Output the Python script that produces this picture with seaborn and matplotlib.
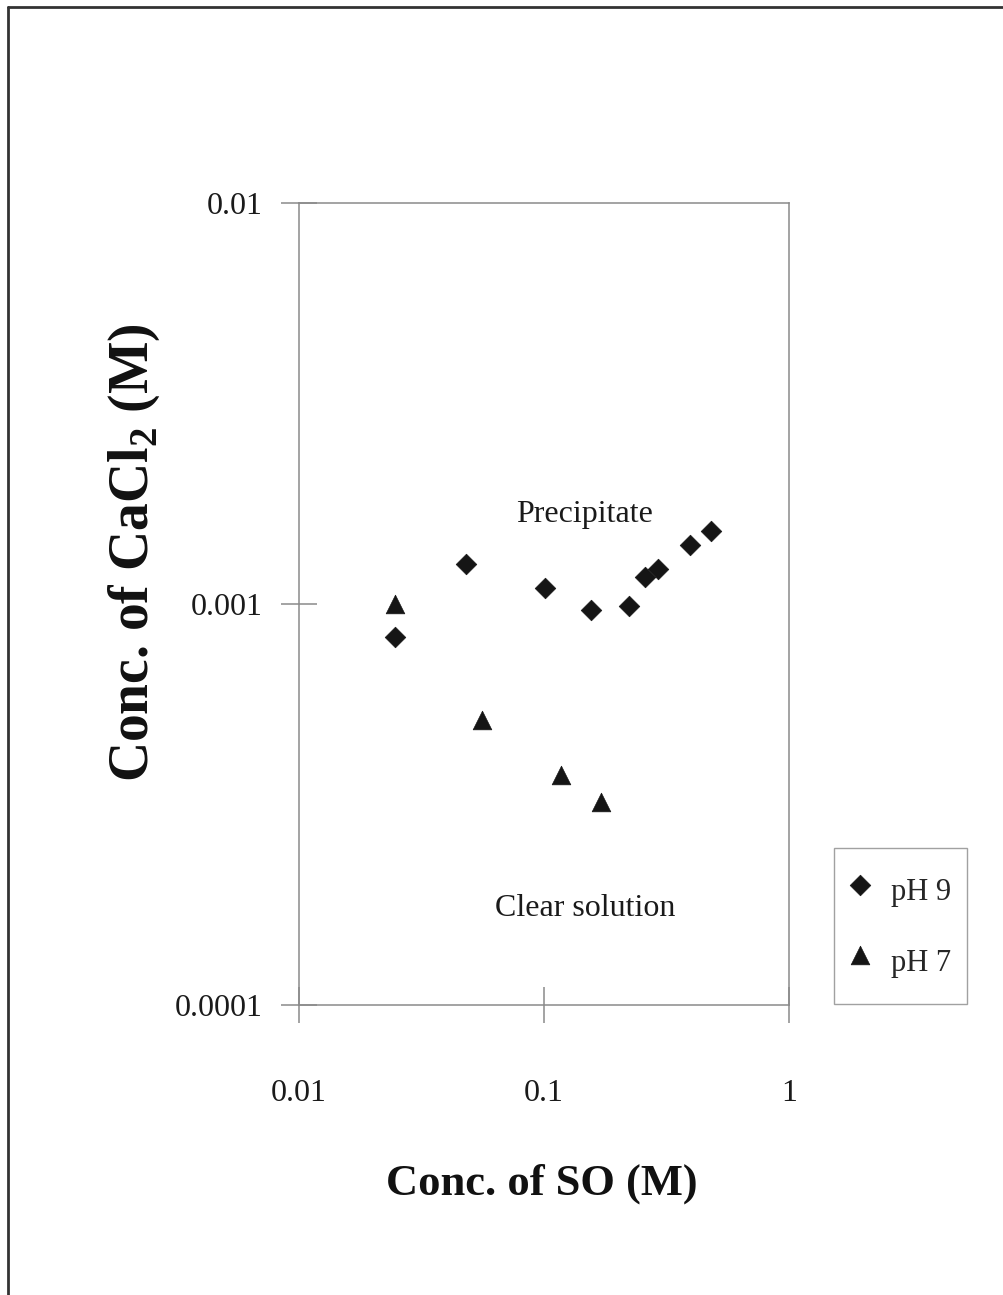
import matplotlib
matplotlib.use("Agg")
import matplotlib.pyplot as plt
from matplotlib.lines import Line2D
from matplotlib.ticker import FixedLocator, FixedFormatter, NullLocator
import pandas as pd
import seaborn as sns

# Precipitation boundary measurements
so_ph9 = [0.0247, 0.0481, 0.101, 0.156, 0.222, 0.258, 0.292, 0.394, 0.481]
cacl2_ph9 = [0.000828, 0.00126, 0.001096, 0.000966, 0.00099, 0.00117, 0.00122, 0.00140, 0.00152]
so_ph7 = [0.0247, 0.0558, 0.117, 0.171]
cacl2_ph7 = [0.00100, 0.000514, 0.000375, 0.000321]

series_labels = ["pH 9", "pH 7"]
x_ticks = [0.01, 0.1, 1]
x_tick_labels = ["0.01", "0.1", "1"]
y_ticks = [0.0001, 0.001, 0.01]
y_tick_labels = ["0.0001", "0.001", "0.01"]

df9 = pd.DataFrame({"so": so_ph9, "cacl2": cacl2_ph9})
df7 = pd.DataFrame({"so": so_ph7, "cacl2": cacl2_ph7})

sns.set_style("white")
plt.rcParams["font.family"] = ["Liberation Serif", "DejaVu Serif"]
plt.rcParams["mathtext.fontset"] = "custom"
plt.rcParams["mathtext.rm"] = "Liberation Serif"
plt.rcParams["mathtext.bf"] = "Liberation Serif:bold"

W, H = 1004, 1295
fig = plt.figure(figsize=(W / 100, H / 100), dpi=100)
fig.patch.set_facecolor("white")
ax = fig.add_axes([299 / W, 1 - 1005 / H, 490 / W, 802 / H])

mark = "#151515"
sns.scatterplot(data=df9, x="so", y="cacl2", marker="D", s=110, color=mark,
                edgecolor=mark, linewidth=0.5, label=series_labels[0], ax=ax, zorder=3)
sns.scatterplot(data=df7, x="so", y="cacl2", marker="^", s=180, color=mark,
                edgecolor=mark, linewidth=0.5, label=series_labels[1], ax=ax, zorder=3)

ax.set_xscale("log")
ax.set_yscale("log")
ax.set_xlim(0.01, 1)
ax.set_ylim(0.0001, 0.01)
ax.xaxis.set_major_locator(FixedLocator(x_ticks))
ax.xaxis.set_major_formatter(FixedFormatter(x_tick_labels))
ax.yaxis.set_major_locator(FixedLocator(y_ticks))
ax.yaxis.set_major_formatter(FixedFormatter(y_tick_labels))
ax.xaxis.set_minor_locator(NullLocator())
ax.yaxis.set_minor_locator(NullLocator())

spine_color = "#8a8a8a"
for sp in ax.spines.values():
    sp.set_color(spine_color)
    sp.set_linewidth(1.1)
ax.tick_params(axis="both", which="major", direction="inout", length=26,
               width=1.1, color=spine_color, labelsize=23, labelcolor="#1a1a1a",
               bottom=True, left=True, top=False, right=False)
ax.tick_params(axis="y", pad=13)
ax.tick_params(axis="x", pad=40)

ax.set_xlabel("Conc. of SO (M)", fontsize=32, fontweight="bold", color="#111111")
ax.set_ylabel(r"Conc. of CaCl$_{\mathbf{2}}$ (M)", fontsize=40, fontweight="bold",
              color="#111111")
ax.xaxis.set_label_coords(0.496, -0.198)
ax.yaxis.set_label_coords(-0.279, 0.564)

ax.text(0.582, 0.611, "Precipitate", transform=ax.transAxes, fontsize=23,
        ha="center", va="center", color="#1a1a1a")
ax.text(0.584, 0.120, "Clear solution", transform=ax.transAxes, fontsize=23,
        ha="center", va="center", color="#1a1a1a")

leg = ax.legend(loc="upper left", bbox_to_anchor=(834 / W, 1 - 848 / H),
                bbox_transform=fig.transFigure, frameon=True, fancybox=False,
                edgecolor="#8a8a8a", fontsize=22, labelspacing=0.6,
                handletextpad=0.7, borderpad=0.55, handlelength=0.6,
                handleheight=2.25, scatteryoffsets=[0.3], borderaxespad=0)
leg.get_frame().set_linewidth(1.0)

# page frame
fig.add_artist(Line2D([8 / W, 1], [1 - 7 / H, 1 - 7 / H], transform=fig.transFigure,
                      color="#333333", lw=2))
fig.add_artist(Line2D([8 / W, 8 / W], [0, 1 - 7 / H], transform=fig.transFigure,
                      color="#333333", lw=2))

fig.savefig("out.png", dpi=100, facecolor="white")
